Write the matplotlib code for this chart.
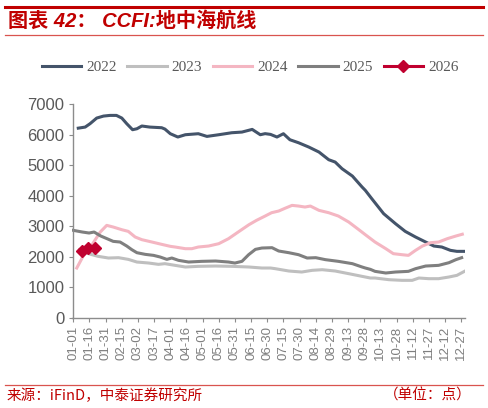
import matplotlib
matplotlib.use('Agg')
import matplotlib.pyplot as plt
from matplotlib.lines import Line2D

plt.rcParams['font.family'] = ['Liberation Sans', 'Noto Sans CJK SC', 'DejaVu Sans']

# tick labels (day-of-year positions, every 15 days)
tick_days = list(range(0, 361, 15))
tick_labels = ['01-01', '01-16', '01-31', '02-15', '03-02', '03-17', '04-01', '04-16',
               '05-01', '05-16', '05-31', '06-15', '06-30', '07-15', '07-30', '08-14',
               '08-29', '09-13', '09-28', '10-13', '10-28', '11-12', '11-27', '12-12',
               '12-27']

# series (day of year, index value)
days_2022 = [4.6, 11, 15.5, 21.7, 28, 34, 40, 45, 49.6, 55, 59, 63.6, 71, 82, 85, 90, 97,
             104, 116, 124, 135, 147, 156.5, 166, 173.5, 178, 183, 189, 195, 201, 209,
             218.5, 228, 237, 243, 249.4, 259, 268, 271, 277, 288, 299, 308, 317.6, 327,
             334.6, 342, 350, 356, 363]
vals_2022 = [6210, 6245, 6355, 6540, 6605, 6627, 6627, 6540, 6355, 6159, 6190, 6280, 6245,
             6224, 6180, 6028, 5920, 5995, 6028, 5940, 5995, 6060, 6082, 6169, 5995, 6030,
             6006, 5920, 6028, 5831, 5733, 5592, 5428, 5178, 5101, 4883, 4643, 4284, 4175,
             3902, 3412, 3085, 2834, 2649, 2485, 2354, 2322, 2213, 2180, 2180]

days_2023 = [5.6, 14, 23, 32.6, 42, 51, 59, 70, 79, 85, 94.5, 104, 116, 132, 147, 163, 175,
             183, 187.5, 200, 212, 221.6, 231, 243, 255.6, 268, 275.7, 280, 293, 305, 314.5,
             320.7, 330, 339, 348.6, 356, 363]
vals_2023 = [2230, 2104, 2017, 1962, 1973, 1918, 1831, 1798, 1755, 1777, 1722, 1668, 1690,
             1700, 1690, 1668, 1635, 1635, 1613, 1537, 1504, 1559, 1580, 1537, 1450, 1362,
             1308, 1308, 1253, 1232, 1232, 1308, 1286, 1286, 1341, 1395, 1526]

days_2024 = [3.2, 9.5, 17, 25, 31, 37, 45, 51, 57.4, 63.6, 73, 82, 90, 94.5, 104, 110, 116,
             125.5, 135, 144, 153, 163, 170, 178, 184, 190.6, 197, 203, 209, 215, 220, 228,
             237, 246, 255.6, 265, 271, 280, 290, 297, 305, 311, 317.6, 324, 331.5, 339,
             347, 355, 361]
vals_2024 = [1635, 2049, 2376, 2812, 3030, 2976, 2888, 2834, 2649, 2562, 2485, 2409, 2344,
             2322, 2267, 2267, 2322, 2354, 2431, 2594, 2812, 3052, 3194, 3335, 3444, 3499,
             3597, 3684, 3662, 3630, 3662, 3521, 3444, 3335, 3139, 2888, 2725, 2485, 2267,
             2104, 2071, 2049, 2213, 2354, 2463, 2485, 2594, 2681, 2740]

days_2025 = [0, 8.4, 14.6, 19.3, 25.5, 31.3, 37, 43.4, 49.6, 54.3, 59, 66.7, 74.4, 80.6,
             86.8, 91.4, 97.6, 107, 119, 132, 144, 150, 156.5, 162.7, 169, 175, 184.4, 190.6,
             200, 209, 217, 225, 234, 246, 259, 268, 271, 275.7, 280, 290, 299, 311, 317.6,
             327, 339, 348.6, 355, 360.4]
vals_2025 = [2867, 2812, 2780, 2812, 2681, 2594, 2507, 2485, 2354, 2235, 2136, 2082, 2049,
             1995, 1918, 1962, 1886, 1831, 1853, 1864, 1831, 1798, 1853, 2071, 2245, 2289,
             2300, 2191, 2136, 2071, 1962, 1973, 1908, 1853, 1777, 1668, 1635, 1591, 1526,
             1472, 1504, 1526, 1613, 1700, 1722, 1809, 1908, 1973]

days_2026 = [8, 14, 20]
vals_2026 = [2190, 2297, 2278]

RED = '#C00000'
GREY_TXT = '#595959'

fig = plt.figure(figsize=(4.88, 4.08), dpi=100)

# header / footer rules and texts
fig.add_artist(Line2D([5 / 488, 483 / 488], [1 - 6.5 / 408] * 2, color=RED, lw=2.2))
fig.add_artist(Line2D([5 / 488, 483 / 488], [1 - 35 / 408] * 2, color='#D9534F', lw=0.9))
fig.text(8 / 488, 1 - 21 / 408, '图表 42： CCFI:地中海航线', color=RED, fontsize=14.5,
         fontweight='bold', style='italic', va='center', ha='left',
         family=['Liberation Sans', 'Noto Sans CJK SC'])
fig.add_artist(Line2D([5 / 488, 483 / 488], [1 - 385 / 408] * 2, color='#D9534F', lw=0.9))
fig.text(7 / 488, 1 - 395.5 / 408, '来源：iFinD，中泰证券研究所', color=RED, fontsize=10.5,
         va='center', ha='left', family=['Noto Sans CJK SC'])
fig.text(472 / 488, 1 - 395.5 / 408, '（单位：点）', color=RED, fontsize=10.5,
         va='center', ha='right', family=['Noto Sans CJK SC'])

ax = fig.add_axes([71.7 / 488, 90 / 408, (465 - 71.7) / 488, (318 - 104) / 408])

ax.plot(days_2022, vals_2022, color='#44546A', lw=2.2, label='2022')
ax.plot(days_2023, vals_2023, color='#BFBFBF', lw=2.2, label='2023')
ax.plot(days_2024, vals_2024, color='#F4B6C2', lw=2.2, label='2024')
ax.plot(days_2025, vals_2025, color='#7F7F7F', lw=2.2, label='2025')
ax.plot(days_2026, vals_2026, color='#C0002F', lw=2.2, marker='D', markersize=6.5,
        label='2026')

ax.set_xlim(-1.5, 363.5)
ax.set_ylim(0, 7000)
ax.set_xticks(tick_days)
ax.set_xticklabels(tick_labels, rotation=90)
ax.set_yticks(range(0, 7001, 1000))

for s in ['top', 'right']:
    ax.spines[s].set_visible(False)
ax.spines['left'].set_position(('data', 0))
for s in ['left', 'bottom']:
    ax.spines[s].set_color('#8C8C8C')
    ax.spines[s].set_linewidth(1.0)
ax.tick_params(axis='x', direction='out', length=3, color='#8C8C8C', labelsize=9.5,
               labelcolor='#7F7F7F', pad=2.5)
ax.tick_params(axis='y', direction='out', length=3, color='#8C8C8C', labelsize=12,
               labelcolor=GREY_TXT, pad=3.5)

fig.legend(loc='center', bbox_to_anchor=(250 / 488, 1 - 67 / 408), ncol=5, frameon=False,
           handlelength=2.6, handletextpad=0.3, columnspacing=0.7,
           prop={'family': 'Liberation Serif', 'size': 11}, labelcolor=GREY_TXT)

fig.savefig('out.png', dpi=100)
